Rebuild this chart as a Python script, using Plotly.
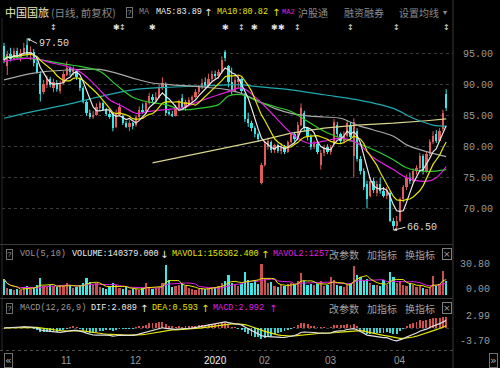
import numpy as np
import pandas as pd
import plotly.graph_objects as go

# ---------------- data ----------------
opens = [96.3, 93.0, 95.0, 94.2, 95.5, 94.5, 95.2, 96.5, 94.8, 95.3,
         93.5, 91.8, 88.8, 90.0, 91.0, 89.5, 90.3, 89.0, 90.3, 91.6,
         92.8, 92.0, 92.3, 91.0, 89.5, 87.2, 85.5, 84.8, 85.2, 86.3,
         87.0, 86.0, 85.3, 85.5, 83.2, 85.2, 85.0, 83.8, 83.2, 83.8,
         83.5, 84.8, 86.0, 85.6, 87.0, 88.0, 87.5, 88.0, 89.5, 90.2,
         85.5, 85.3, 85.0, 86.3, 87.8, 86.2, 87.0, 87.5, 88.0, 88.8,
         89.6, 90.5, 89.8, 91.0, 91.8, 91.5, 92.0, 95.3, 93.0, 90.5,
         89.0, 90.5, 91.0, 88.5, 84.5, 83.8, 83.0, 82.0, 74.2, 77.0,
         80.0, 80.8, 79.5, 80.2, 79.3, 80.0, 79.2, 80.8, 82.0, 81.3,
         83.5, 85.5, 83.0, 81.5, 80.0, 80.5, 77.0, 79.0, 80.0, 79.2,
         80.5, 83.5, 82.0, 81.0, 81.8, 83.5, 78.5, 82.5, 78.0, 76.0,
         74.0, 72.0, 74.5, 72.5, 74.0, 72.8, 72.0, 72.5, 68.0, 67.2,
         68.0, 71.5, 73.5, 75.0, 74.5, 76.0, 76.5, 78.5, 76.0, 78.8,
         80.8, 82.0, 81.0, 82.8, 88.6]
highs = [96.8, 95.5, 96.0, 96.0, 96.0, 95.8, 96.8, 97.5, 96.2, 95.8,
         94.3, 92.2, 90.8, 91.5, 91.3, 91.0, 90.8, 90.7, 92.2, 93.8,
         93.0, 93.0, 92.5, 91.2, 89.8, 87.5, 86.0, 85.8, 87.0, 87.3,
         87.3, 86.3, 85.8, 85.5, 86.0, 87.0, 85.2, 84.2, 84.3, 84.0,
         85.0, 86.5, 87.0, 87.3, 88.7, 88.5, 88.8, 90.0, 91.2, 90.4,
         86.0, 85.8, 86.8, 87.6, 88.5, 87.6, 88.0, 88.3, 89.3, 90.0,
         91.0, 91.2, 91.8, 92.3, 92.3, 92.5, 94.6, 95.6, 93.2, 92.8,
         91.5, 91.6, 91.2, 88.7, 85.5, 84.2, 83.3, 82.3, 77.4, 81.0,
         81.5, 81.0, 80.5, 80.5, 80.6, 80.3, 81.0, 82.3, 82.4, 84.0,
         87.0, 85.8, 83.2, 82.0, 81.0, 80.8, 79.5, 80.3, 80.4, 80.3,
         84.5, 84.0, 82.3, 82.5, 84.3, 84.0, 84.6, 83.0, 78.5, 76.5,
         74.5, 75.0, 75.0, 74.5, 75.0, 73.5, 73.5, 72.8, 68.5, 68.8,
         71.8, 73.8, 75.5, 75.8, 76.5, 77.0, 79.0, 78.8, 79.2, 81.2,
         82.5, 82.7, 83.0, 86.0, 89.3]
lows = [93.5, 91.6, 93.8, 94.0, 94.2, 93.8, 94.8, 94.5, 94.0, 93.0,
        91.8, 87.3, 88.5, 89.5, 89.6, 88.8, 88.9, 88.6, 90.0, 91.4,
        91.5, 91.5, 90.8, 89.0, 87.0, 85.0, 84.5, 84.5, 85.0, 85.8,
        85.8, 85.0, 84.5, 82.5, 83.0, 85.0, 83.5, 83.0, 82.5, 82.8,
        83.2, 84.6, 85.3, 85.4, 86.8, 87.0, 87.2, 87.8, 89.2, 85.0,
        85.0, 84.8, 84.9, 86.0, 86.0, 85.8, 86.5, 87.0, 87.8, 88.5,
        89.3, 89.5, 89.6, 90.6, 91.0, 91.0, 91.8, 93.8, 89.6, 88.4,
        88.8, 89.5, 88.5, 84.0, 83.2, 82.5, 81.5, 80.8, 73.9, 76.8,
        79.5, 79.0, 79.0, 79.0, 78.8, 78.8, 79.0, 80.5, 80.8, 81.0,
        83.3, 82.5, 81.0, 79.5, 79.6, 78.8, 76.3, 78.5, 78.8, 78.7,
        80.2, 81.5, 80.5, 80.5, 81.5, 81.0, 75.0, 77.6, 75.5, 73.0,
        70.0, 71.8, 72.5, 72.0, 72.4, 71.8, 71.5, 67.8, 66.5, 66.8,
        67.8, 71.0, 73.0, 74.0, 74.2, 75.5, 76.2, 75.5, 75.8, 78.5,
        80.4, 80.6, 80.8, 82.5, 85.8]
closes = [94.0, 95.0, 94.2, 95.5, 94.5, 95.2, 96.0, 94.8, 95.3, 93.5,
          92.0, 88.6, 90.2, 91.0, 90.0, 90.5, 89.3, 90.3, 91.8, 92.8,
          92.0, 92.6, 91.2, 89.5, 87.2, 85.5, 84.8, 85.2, 86.5, 87.0,
          86.0, 85.3, 84.8, 83.0, 85.5, 86.5, 83.8, 83.2, 83.8, 83.5,
          84.8, 86.0, 85.6, 87.0, 88.2, 87.5, 88.0, 89.5, 90.3, 85.5,
          85.3, 85.0, 86.3, 87.3, 86.2, 87.2, 87.5, 88.0, 88.8, 89.6,
          90.3, 89.8, 91.0, 91.8, 91.5, 92.0, 94.0, 94.3, 90.5, 89.0,
          90.8, 91.0, 89.0, 84.5, 83.8, 83.0, 82.0, 81.3, 77.0, 80.5,
          81.0, 79.5, 80.2, 79.3, 80.0, 79.2, 80.8, 82.0, 81.2, 83.5,
          86.2, 83.0, 81.5, 80.0, 80.5, 79.2, 79.0, 80.0, 79.2, 80.0,
          84.0, 82.0, 81.0, 81.8, 83.8, 81.5, 84.0, 78.0, 76.0, 73.5,
          71.5, 74.5, 73.0, 74.0, 72.8, 72.0, 73.0, 68.0, 67.2, 68.0,
          71.5, 73.5, 75.0, 74.5, 76.0, 76.5, 78.5, 76.0, 78.8, 80.8,
          81.8, 81.0, 82.5, 85.5, 86.2]
volumes = [16, 7, 6, 5, 6, 5, 8, 9, 6, 7,
           10, 17, 9, 8, 10, 9, 8, 10, 9, 12,
           9, 7, 8, 10, 12, 17, 13, 10, 12, 8,
           7, 6, 9, 12, 10, 7, 6, 8, 5, 6,
           6, 5, 7, 12, 8, 6, 7, 8, 12, 30,
           15, 8, 9, 10, 12, 9, 7, 6, 5, 6,
           7, 6, 7, 8, 7, 9, 12, 14, 20, 12,
           10, 9, 11, 23, 15, 12, 14, 11, 31, 16,
           12, 13, 9, 8, 10, 9, 11, 12, 10, 14,
           22, 14, 10, 11, 10, 11, 14, 9, 10, 18,
           15, 10, 9, 8, 10, 12, 29, 20, 18, 14,
           16, 12, 10, 10, 9, 15, 10, 23, 18, 12,
           14, 10, 9, 12, 10, 8, 9, 7, 6, 8,
           19, 9, 11, 24, 14]

# long moving averages at sample days
ma20_days = [0, 9, 14, 19, 23, 26, 29, 32, 36, 40, 44, 49, 54, 59, 65, 68, 72, 77,
             82, 87, 92, 97, 102, 107, 112, 118, 122, 128, 131, 134]
ma20_vals = [93.8, 94.3, 93.6, 93.0, 92.1, 90.8, 89.2, 87.6, 86.5, 85.4, 85.7, 86.0,
             86.3, 87.3, 88.4, 88.9, 89.5, 87.6, 84.9, 82.2, 80.6, 80.9, 81.4, 80.6,
             78.2, 76.3, 75.0, 74.4, 75.0, 76.8]
ma30_days = [0, 9, 19, 23, 29, 34, 39, 44, 49, 54, 59, 65, 68, 72, 77, 82, 87, 92,
             97, 102, 107, 112, 118, 122, 128, 134]
ma30_vals = [94.5, 94.2, 93.3, 93.0, 92.2, 90.0, 88.0, 87.2, 86.8, 86.0, 86.2, 86.8,
             88.2, 88.4, 87.3, 86.5, 85.7, 84.1, 82.5, 81.4, 80.6, 79.5, 77.9, 76.6,
             76.0, 76.3]
ma60_days = [0, 9, 19, 29, 34, 39, 45, 51, 59, 68, 72, 77, 82, 87, 92, 97, 102, 107,
             112, 118, 122, 128, 134]
ma60_vals = [90.8, 91.9, 92.4, 92.5, 91.9, 91.1, 90.3, 90.0, 89.7, 89.2, 88.6, 87.4,
             86.2, 85.4, 85.0, 84.8, 84.6, 83.5, 82.7, 81.7, 80.3, 79.2, 78.4]
ma120_days = [0, 9, 19, 29, 39, 49, 59, 68, 72, 77, 87, 97, 107, 118, 124, 130, 134]
ma120_vals = [84.6, 85.7, 86.8, 88.1, 89.2, 89.6, 89.8, 90.0, 90.0, 89.7, 89.2, 88.4,
              87.6, 86.2, 84.6, 83.5, 83.3]
ma250_days = [45, 68, 77, 87, 97, 107, 118, 128, 134]
ma250_vals = [77.4, 80.0, 80.9, 82.2, 83.0, 83.5, 83.8, 84.2, 84.5]

price_ticks = [70, 75, 80, 85, 90, 95]
month_days = [19, 40, 64, 79, 99, 120]
month_labels = ["11", "12", "2020", "02", "03", "04"]
event_days = [15, 34, 36, 45, 67, 72, 76, 82, 84, 89, 105, 119, 134]
event_kind = ["i", "s", "i", "s", "s", "i", "s", "s", "s", "i", "i", "i", "i"]
high_day, high_val = 7, 97.50
low_day, low_val = 118, 66.50

# ---------------- derived series ----------------
df = pd.DataFrame(dict(o=opens, h=highs, l=lows, c=closes, v=volumes))
n = len(df)
idx = np.arange(n)
ma5 = df.c.rolling(5, min_periods=1).mean()
ma10 = df.c.rolling(10, min_periods=1).mean()
ema12 = df.c.ewm(span=12, adjust=False).mean()
ema26 = df.c.ewm(span=26, adjust=False).mean()
dif = ema12 - ema26
dea = dif.ewm(span=9, adjust=False).mean()
macd = 2 * (dif - dea)
mavol1 = df.v.rolling(5, min_periods=1).mean()
mavol2 = df.v.rolling(10, min_periods=1).mean()

UP = "#e05c5c"
DN = "#3fe6e6"
up = df.c >= df.o

# ---------------- geometry helpers (pixels -> paper) ----------------
L, R, T, B = 2, 453, 18, 350
W, H = R - L, B - T


def px(x):
    return (x - L) / W


def py(y):
    return (B - y) / H


MONO = "Liberation Mono"
CJK = "Noto Sans CJK SC"
GRAY = "#9a9a9a"

fig = go.Figure()


def wicks(sel, color, yaxis):
    xs, ys = [], []
    for i in sel:
        xs += [i, i, None]
        ys += [lows[i], highs[i], None]
    fig.add_trace(go.Scatter(x=xs, y=ys, mode="lines", line=dict(color=color, width=1),
                             yaxis=yaxis, hoverinfo="skip"))


up_i = idx[up.values]
dn_i = idx[~up.values]
wicks(up_i, UP, "y")
wicks(dn_i, DN, "y")
for sel, col in ((up_i, UP), (dn_i, DN)):
    base = np.minimum(df.o.values[sel], df.c.values[sel])
    hgt = np.maximum(np.abs(df.c.values[sel] - df.o.values[sel]), 0.12)
    fig.add_trace(go.Bar(x=sel, y=hgt, base=base, width=0.72, marker=dict(color=col, line=dict(width=0)),
                         yaxis="y"))

# MA lines
fig.add_trace(go.Scatter(x=ma250_days, y=ma250_vals, mode="lines", line=dict(color="#d8d48c", width=1.2), yaxis="y"))
fig.add_trace(go.Scatter(x=ma120_days, y=ma120_vals, mode="lines", line=dict(color="#1fa9b0", width=1.2, shape="spline"), yaxis="y"))
fig.add_trace(go.Scatter(x=ma60_days, y=ma60_vals, mode="lines", line=dict(color="#a8a8a8", width=1.2, shape="spline"), yaxis="y"))
fig.add_trace(go.Scatter(x=ma30_days, y=ma30_vals, mode="lines", line=dict(color="#2ecc2e", width=1.2, shape="spline"), yaxis="y"))
fig.add_trace(go.Scatter(x=ma20_days, y=ma20_vals, mode="lines", line=dict(color="#e020e0", width=1.2, shape="spline"), yaxis="y"))
fig.add_trace(go.Scatter(x=idx, y=ma10, mode="lines", line=dict(color="#e6e600", width=1.2), yaxis="y"))
fig.add_trace(go.Scatter(x=idx, y=ma5, mode="lines", line=dict(color="#e8e8e8", width=1.2), yaxis="y"))

# volume
for sel, col in ((up_i, "#c85050"), (dn_i, DN)):
    fig.add_trace(go.Bar(x=sel, y=df.v.values[sel], width=0.72, marker=dict(color=col, line=dict(width=0)), yaxis="y2"))
fig.add_trace(go.Scatter(x=idx, y=mavol2, mode="lines", line=dict(color="#e020e0", width=1), yaxis="y2"))
fig.add_trace(go.Scatter(x=idx, y=mavol1, mode="lines", line=dict(color="#e6e600", width=1), yaxis="y2"))

# MACD
mpos = macd.values >= 0
fig.add_trace(go.Bar(x=idx[mpos], y=macd.values[mpos], width=0.3, marker=dict(color="#d05050", line=dict(width=0)), yaxis="y3"))
fig.add_trace(go.Bar(x=idx[~mpos], y=macd.values[~mpos], width=0.3, marker=dict(color="#3fd0d0", line=dict(width=0)), yaxis="y3"))
fig.add_trace(go.Scatter(x=idx, y=dea, mode="lines", line=dict(color="#e6e600", width=1.2), yaxis="y3"))
fig.add_trace(go.Scatter(x=idx, y=dif, mode="lines", line=dict(color="#e0e0e0", width=1.2), yaxis="y3"))

ann = []


def txt(x, y, s, color=GRAY, size=8.5, family=MONO, anchor="left", **kw):
    d = dict(xref="paper", yref="paper", x=px(x), y=py(y), text=s, showarrow=False,
             xanchor=anchor, yanchor="middle", font=dict(color=color, size=size, family=family))
    d.update(kw)
    ann.append(d)


def qbox(x, y):
    txt(x, y, "?", color=GRAY, size=8, anchor="center", bordercolor="#707070", borderwidth=1, borderpad=0)


# header line
txt(3, 12, "中国国旅", color="#ece8c0", size=11, family=CJK)
txt(49, 12, "(日线, 前复权)", color="#8a8a8a", size=10.5, family=CJK)
qbox(129, 12)
txt(137, 12, "MA", color="#8a8a8a", size=8.5)
txt(154, 12, "MA5:83.89", color="#eeeeee", size=8.5)
txt(202, 12, "↑", color="#eeeeee", size=10, family="DejaVu Sans")
txt(215, 12, "MA10:80.82", color="#e6e600", size=8.5)
txt(270, 12, "↑", color="#e6e600", size=10, family="DejaVu Sans")
txt(280, 12, "MA2", color="#e020e0", size=7)
txt(296, 12, "沪股通", color="#8a8a8a", size=10, family=CJK)
txt(342, 12, "融资融券", color="#8a8a8a", size=10, family=CJK)
txt(397, 12, "设置均线", color="#8a8a8a", size=10, family=CJK)
txt(441, 12, "▾", color="#8a8a8a", size=8, family="DejaVu Sans")

# event markers row
for d, k in zip(event_days, event_kind):
    ann.append(dict(xref="x", yref="paper", x=d, y=py(27), text="✱" if k == "s" else "↕",
                    showarrow=False, xanchor="center", yanchor="middle",
                    font=dict(color="#e0e0e0", size=8, family="DejaVu Sans")))

# high / low marks
ann.append(dict(xref="x", yref="y", x=high_day, y=high_val, text=f"{high_val:.2f}", showarrow=True,
                ax=10, ay=5, xanchor="left", yanchor="middle", arrowhead=2, arrowsize=0.7,
                arrowwidth=1, arrowcolor="#dddddd", font=dict(color="#dddddd", size=10, family=MONO)))
ann.append(dict(xref="x", yref="y", x=low_day, y=low_val, text=f"{low_val:.2f}", showarrow=True,
                ax=12, ay=-3, xanchor="left", yanchor="middle", arrowhead=2, arrowsize=0.7,
                arrowwidth=1, arrowcolor="#dddddd", font=dict(color="#dddddd", size=10, family=MONO)))

# VOL header
qbox(9, 254)
txt(18, 254, "VOL(5,10)")
txt(70, 254, "VOLUME:140379.000", color="#eeeeee")
txt(158, 254, "↓", color="#eeeeee", size=10, family="DejaVu Sans")
txt(170, 254, "MAVOL1:156362.400", color="#e6e600")
txt(259, 254, "↑", color="#e6e600", size=10, family="DejaVu Sans")
txt(271, 254, "MAVOL2:1257", color="#e020e0")
for y in (254, 308):
    txt(327, y, "改参数", color="#a0a0a0", size=10, family=CJK)
    txt(365, y, "加指标", color="#a0a0a0", size=10, family=CJK)
    txt(403, y, "换指标", color="#a0a0a0", size=10, family=CJK)
    txt(447, y, "×", color="#a0a0a0", size=9, family="DejaVu Sans", anchor="center",
        bordercolor="#808080", borderwidth=1, borderpad=0)

# MACD header
qbox(9, 308)
txt(18, 308, "MACD(12,26,9)")
txt(89, 308, "DIF:2.089", color="#eeeeee")
txt(138, 308, "↑", color="#eeeeee", size=10, family="DejaVu Sans")
txt(150, 308, "DEA:0.593", color="#e6e600")
txt(199, 308, "↑", color="#e6e600", size=10, family="DejaVu Sans")
txt(211, 308, "MACD:2.992", color="#e020e0")
txt(267, 308, "↑", color="#e020e0", size=10, family="DejaVu Sans")

# right labels for VOL / MACD
for val, s in ((30.8, "30.80"),):
    ann.append(dict(xref="paper", yref="y2", x=px(492), y=val, text=s, showarrow=False, xanchor="right",
                    yanchor="middle", font=dict(color=GRAY, size=10, family=MONO)))
txt(492, 289, "0.00", color=GRAY, size=10, anchor="right")
for val, s in ((2.99, "2.99"), (-3.70, "-3.70")):
    ann.append(dict(xref="paper", yref="y3", x=px(492), y=val, text=s, showarrow=False, xanchor="right",
                    yanchor="middle", font=dict(color=GRAY, size=10, family=MONO)))

# month labels
for d, s in zip(month_days, month_labels):
    ann.append(dict(xref="x", yref="paper", x=d, y=py(360), text=s, showarrow=False, xanchor="center",
                    yanchor="middle", font=dict(color="#f0f0f0" if s == "2020" else GRAY, size=10,
                                                family="Liberation Sans")))
txt(8, 360, "«", color="#b0b0b0", size=11, family="DejaVu Sans", anchor="center",
    bordercolor="#707070", borderwidth=1, borderpad=0)
txt(493, 360, "»", color="#b0b0b0", size=11, family="DejaVu Sans", anchor="center",
    bordercolor="#707070", borderwidth=1, borderpad=0)

shapes = [
    dict(type="line", xref="paper", yref="paper", x0=px(453), x1=px(453), y0=py(0), y1=py(368),
         line=dict(color="#3a3a3a", width=1)),
    dict(type="line", xref="paper", yref="paper", x0=px(2), x1=px(2), y0=py(18), y1=py(350),
         line=dict(color="#2a2a2a", width=1)),
    dict(type="line", xref="paper", yref="paper", x0=px(0), x1=px(453), y0=py(244.5), y1=py(244.5),
         line=dict(color="#3a3a3a", width=1)),
    dict(type="line", xref="paper", yref="paper", x0=px(0), x1=px(453), y0=py(298.5), y1=py(298.5),
         line=dict(color="#3a3a3a", width=1)),
    dict(type="line", xref="paper", yref="paper", x0=px(0), x1=px(453), y0=py(350.5), y1=py(350.5),
         line=dict(color="#4a4a4a", width=1, dash="dot")),
]

fig.update_layout(
    width=500, height=368, margin=dict(l=L, r=500 - R, t=T, b=368 - B),
    paper_bgcolor="#000000", plot_bgcolor="#000000", showlegend=False,
    barmode="overlay", bargap=0, annotations=ann, shapes=shapes,
    xaxis=dict(domain=[0, 1], range=[-0.606, 136.06], showticklabels=False, showgrid=False,
               zeroline=False, showline=False, anchor="y3", fixedrange=True),
    yaxis=dict(domain=[py(244.5), 1], range=[64.19, 100.81], side="right", anchor="x",
               tickvals=price_ticks, ticktext=[f"{v:.2f}" for v in price_ticks], ticks="",
               ticklabelstandoff=9, tickfont=dict(color=GRAY, size=10, family=MONO),
               showgrid=True, gridcolor="#3c3c3c", griddash="dot", gridwidth=1,
               zeroline=False, showline=False, fixedrange=True),
    yaxis2=dict(domain=[py(295), py(260)], range=[0, 35], anchor="x", showticklabels=False,
                showgrid=False, zeroline=False, showline=False, fixedrange=True),
    yaxis3=dict(domain=[0, py(314)], range=[-5.88, 3.74], anchor="x", showticklabels=False,
                tickvals=[0], showgrid=True, gridcolor="#3c3c3c", griddash="dot",
                zeroline=False, showline=False, fixedrange=True),
)

fig.write_html("out.html", config={"displayModeBar": False},
               post_script="document.body.style.margin='0';document.body.style.background='#000';")
